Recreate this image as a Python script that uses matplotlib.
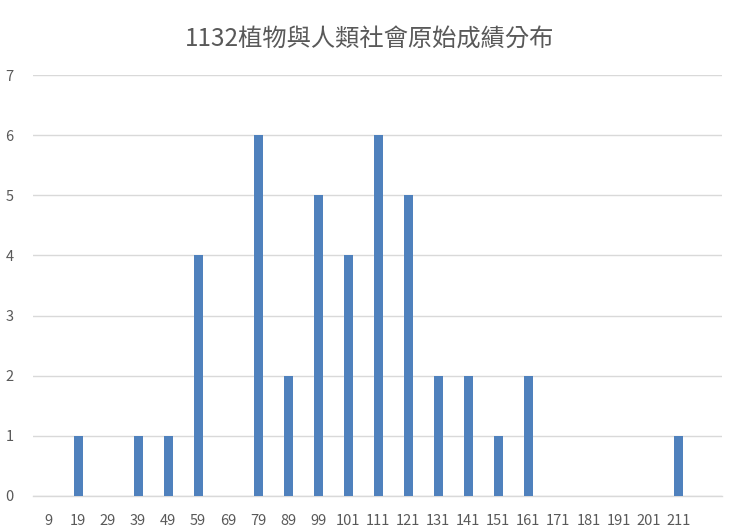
import matplotlib
matplotlib.use("Agg")
import matplotlib.pyplot as plt

plt.rcParams['font.family'] = ['Noto Sans CJK TC', 'DejaVu Sans']

scores = ["9", "19", "29", "39", "49", "59", "69", "79", "89", "99", "101",
          "111", "121", "131", "141", "151", "161", "171", "181", "191", "201", "211"]
counts = [0, 1, 0, 1, 1, 4, 0, 6, 2, 5, 4, 6, 5, 2, 2, 1, 2, 0, 0, 0, 0, 1]

fig = plt.figure(figsize=(7.4, 5.32), dpi=100)
ax = fig.add_axes([0.0446, 0.0677, 0.9311, 0.7913])

x = list(range(len(scores)))
ax.bar(x, counts, width=0.3, color="#4f81bd", zorder=3)

ax.set_xlim(-0.5, len(scores) + 0.45)
ax.set_ylim(0, 7)
ax.set_yticks(range(0, 8))
ax.set_xticks(x)
ax.set_xticklabels(scores)
ax.grid(axis="y", color="#d9d9d9", linewidth=1, zorder=0)
ax.axhline(0, color="#d9d9d9", linewidth=1, zorder=1, clip_on=False)
for s in ax.spines.values():
    s.set_visible(False)
ax.tick_params(axis="both", length=0, colors="#595959", labelsize=10.5)
ax.tick_params(axis="x", pad=13)
ax.tick_params(axis="y", pad=14)

fig.text(0.5, 0.928, "1132植物與人類社會原始成績分布", ha="center", va="center",
         fontsize=17.5, color="#595959")

fig.savefig("out.png", dpi=100, facecolor="white")
